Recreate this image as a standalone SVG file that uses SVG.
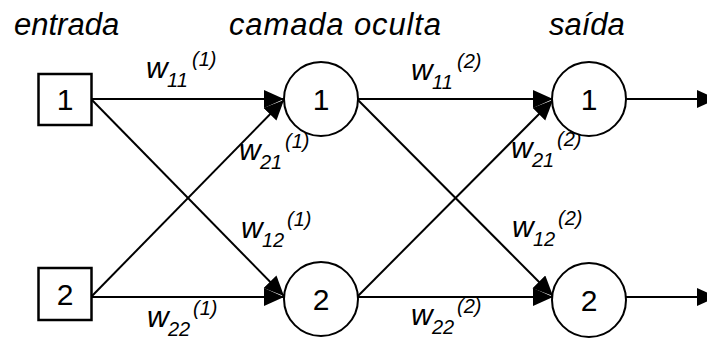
<svg xmlns="http://www.w3.org/2000/svg" width="707" height="340" viewBox="0 0 707 340">
<defs>
<marker id="ah" markerUnits="userSpaceOnUse" markerWidth="22" markerHeight="20" refX="20" refY="9" orient="auto">
<path d="M0,0 L20,9 L0,18 Z" fill="#000"/>
</marker>
<style>
.t{font-family:"Liberation Sans",Arial,sans-serif;font-style:italic;font-size:31px;fill:#000}
.w{font-family:"Liberation Sans",Arial,sans-serif;font-style:italic;font-size:30px;fill:#000}
.s{font-size:20px}
.n{font-family:"Liberation Sans",Arial,sans-serif;font-size:30px;fill:#000;text-anchor:middle}
.box{fill:#fff;stroke:#000;stroke-width:2.5}
.c{fill:#fff;stroke:#000;stroke-width:2}
.e{stroke:#000;stroke-width:2;fill:none;marker-end:url(#ah)}
</style>
</defs>
<rect width="707" height="340" fill="#fff"/>
<g id="titles">
<text class="t" x="14" y="35">entrada</text>
<text class="t" x="229" y="35" textLength="212" lengthAdjust="spacing">camada oculta</text>
<text class="t" x="549" y="35">saída</text>
</g>
<g id="connectors">
<line class="e" x1="92" y1="99" x2="284" y2="99"/>
<line class="e" x1="92" y1="100" x2="284" y2="296"/>
<line class="e" x1="92" y1="296" x2="284" y2="100"/>
<line class="e" x1="92" y1="297" x2="284" y2="297"/>
<line class="e" x1="358" y1="99" x2="553" y2="99"/>
<line class="e" x1="358" y1="100" x2="553" y2="296"/>
<line class="e" x1="358" y1="296" x2="553" y2="100"/>
<line class="e" x1="358" y1="297" x2="553" y2="297"/>
<line class="e" x1="626" y1="99" x2="717" y2="99"/>
<line class="e" x1="626" y1="297" x2="717" y2="297"/>
</g>
<g id="labels">
<text class="w"><tspan x="146" y="78">w</tspan><tspan class="s" x="167" y="87">11</tspan><tspan class="s" x="192" y="66">(1)</tspan></text>
<text class="w"><tspan x="239" y="160">w</tspan><tspan class="s" x="260" y="169">21</tspan><tspan class="s" x="285" y="148">(1)</tspan></text>
<text class="w"><tspan x="241" y="238">w</tspan><tspan class="s" x="262" y="247">12</tspan><tspan class="s" x="287" y="226">(1)</tspan></text>
<text class="w"><tspan x="147" y="327">w</tspan><tspan class="s" x="168" y="336">22</tspan><tspan class="s" x="193" y="315">(1)</tspan></text>
<text class="w"><tspan x="411" y="80">w</tspan><tspan class="s" x="432" y="89">11</tspan><tspan class="s" x="457" y="68">(2)</tspan></text>
<text class="w"><tspan x="511" y="158">w</tspan><tspan class="s" x="532" y="167">21</tspan><tspan class="s" x="557" y="146">(2)</tspan></text>
<text class="w"><tspan x="512" y="237">w</tspan><tspan class="s" x="533" y="246">12</tspan><tspan class="s" x="558" y="225">(2)</tspan></text>
<text class="w"><tspan x="411" y="325">w</tspan><tspan class="s" x="432" y="334">22</tspan><tspan class="s" x="457" y="313">(2)</tspan></text>
</g>
<g id="in1"><rect class="box" x="38.5" y="74" width="53" height="51"/><text class="n" x="65" y="110">1</text></g>
<g id="in2"><rect class="box" x="38.5" y="268" width="53" height="52"/><text class="n" x="65" y="305">2</text></g>
<g id="h1"><circle class="c" cx="321" cy="99" r="37"/><text class="n" x="321" y="110">1</text></g>
<g id="h2"><circle class="c" cx="321" cy="299" r="37"/><text class="n" x="321" y="310">2</text></g>
<g id="o1"><circle class="c" cx="589" cy="99" r="37"/><text class="n" x="589" y="110">1</text></g>
<g id="o2"><circle class="c" cx="589" cy="300" r="37"/><text class="n" x="589" y="311">2</text></g>
</svg>
